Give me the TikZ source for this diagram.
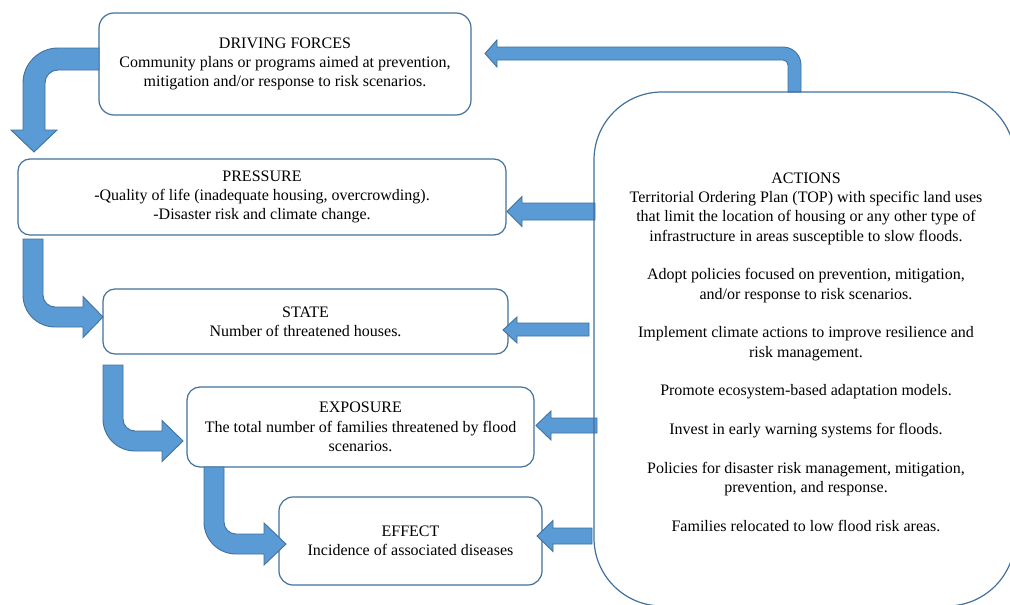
\documentclass[tikz,border=0pt]{standalone}
\usepackage{fontspec}
\setmainfont{Liberation Serif}
\definecolor{arrfill}{HTML}{5B9BD5}
\definecolor{arrline}{HTML}{41719C}
\definecolor{boxline}{HTML}{41719C}
\begin{document}
\begin{tikzpicture}[x=1pt,y=-1pt,
  txt/.style={align=center, inner sep=0pt, font=\fontsize{16}{19.33}\selectfont},
  box/.style={txt, draw=boxline, line width=1.2pt, fill=white},
  blockarrow/.style={fill=arrfill, draw=arrline, line width=0.9pt, line join=miter}]
\useasboundingbox (0,0) rectangle (1010,605);
\fill[white] (0,0) rectangle (1010,605);

% boxes
\node[box, minimum width=372pt, minimum height=102pt, rounded corners=15pt] (df) at (285,64)
  {DRIVING FORCES\\Community plans or programs aimed at prevention,\\mitigation and/or response to risk scenarios.};
\node[box, minimum width=488pt, minimum height=76pt, rounded corners=12pt] (pr) at (262,197)
  {PRESSURE\\-Quality of life (inadequate housing, overcrowding).\\-Disaster risk and climate change.};
\node[box, minimum width=405pt, minimum height=65pt, rounded corners=12pt] (st) at (305.5,321.5)
  {STATE\\Number of threatened houses.};
\node[box, minimum width=347pt, minimum height=80pt, rounded corners=13pt] (ex) at (360.5,427)
  {EXPOSURE\\The total number of families threatened by flood\\scenarios.};
\node[box, minimum width=263pt, minimum height=88pt, rounded corners=14pt] (ef) at (410.5,541)
  {EFFECT\\Incidence of associated diseases};

% bent arrows on the left
\draw[blockarrow] (99,48) -- (58,48) .. controls (38.7,48) and (23,63.7) .. (23,83) -- (23,130) -- (11,130) -- (34,152) -- (57,130) -- (45,130) -- (45,83) .. controls (45,75.8) and (50.8,70) .. (58,70) -- (99,70) -- cycle;
\draw[blockarrow] (43,239) -- (23,239) -- (23,295) .. controls (23,312.7) and (37.3,327) .. (55,327) -- (83,327) -- (83,337.5) -- (103,317) -- (83,296.5) -- (83,307) -- (55,307) .. controls (48.4,307) and (43,301.6) .. (43,295) -- cycle;
\draw[blockarrow] (123,365) -- (103,365) -- (103,419) .. controls (103,436.7) and (117.3,451) .. (135,451) -- (162,451) -- (162,461.5) -- (183,441) -- (162,420.5) -- (162,431) -- (135,431) .. controls (128.4,431) and (123,425.6) .. (123,419) -- cycle;
\draw[blockarrow] (224,467) -- (204,467) -- (204,522) .. controls (204,539.7) and (218.3,554) .. (236,554) -- (264,554) -- (264,565) -- (286,544) -- (264,523) -- (264,534) -- (236,534) .. controls (229.4,534) and (224,528.6) .. (224,522) -- cycle;

% top arrow from actions to driving forces
\draw[blockarrow] (788,92) -- (801,92) -- (801,65) .. controls (801,55.1) and (792.9,47) .. (783,47) -- (497,47) -- (497,40) -- (485,53.5) -- (497,67) -- (497,60) -- (783,60) .. controls (785.8,60) and (788,62.2) .. (788,65) -- cycle;

% straight arrows from actions
\draw[blockarrow] (595,203) -- (522,203) -- (522,196.5) -- (507,211.5) -- (522,226.5) -- (522,220) -- (595,220) -- cycle;
\draw[blockarrow] (589,323) -- (517,323) -- (517,317) -- (503,330) -- (517,343) -- (517,336) -- (589,336) -- cycle;
\draw[blockarrow] (597,418) -- (551,418) -- (551,411) -- (536,425.5) -- (551,440) -- (551,433) -- (597,433) -- cycle;
\draw[blockarrow] (592,528) -- (553,528) -- (553,520.5) -- (537,536) -- (553,551.5) -- (553,544) -- (592,544) -- cycle;

% actions box
\node[box, fill=none, minimum width=421pt, minimum height=514pt, rounded corners=68pt] (act) at (804.5,349) {};
\node[txt] (acttext) at (806,352)
  {ACTIONS\\Territorial Ordering Plan (TOP) with specific land uses\\that limit the location of housing or any other type of\\infrastructure in areas susceptible to slow floods.\\[19.33pt]
   Adopt policies focused on prevention, mitigation,\\and/or response to risk scenarios.\\[19.33pt]
   Implement climate actions to improve resilience and\\risk management.\\[19.33pt]
   Promote ecosystem-based adaptation models.\\[19.33pt]
   Invest in early warning systems for floods.\\[19.33pt]
   Policies for disaster risk management, mitigation,\\prevention, and response.\\[19.33pt]
   Families relocated to low flood risk areas.};
\end{tikzpicture}
\end{document}
